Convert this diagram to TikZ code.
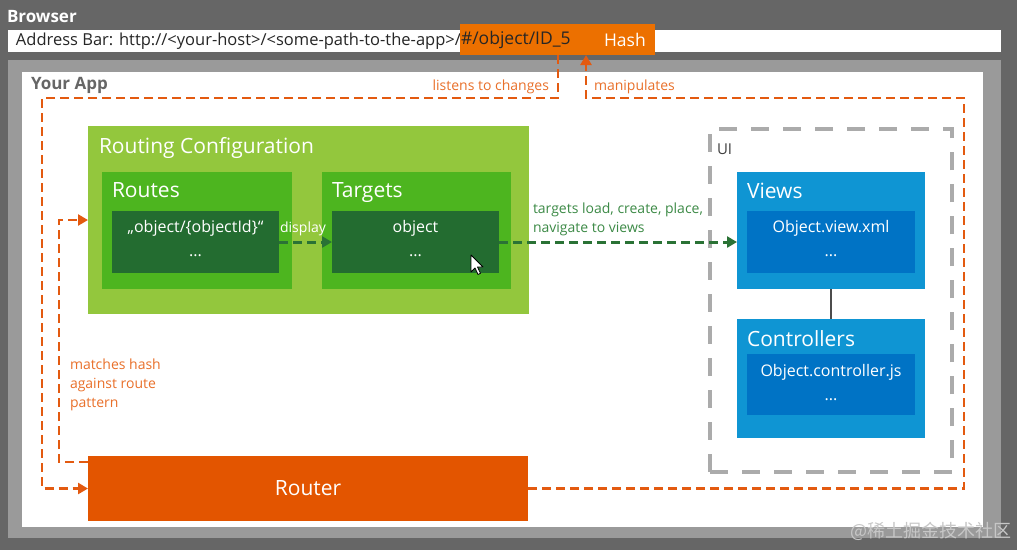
\documentclass[tikz,border=0pt]{standalone}
\usepackage{fontspec}
\setmainfont{Open Sans}
\newfontfamily\cjkfont{Noto Sans CJK SC}
\usetikzlibrary{arrows.meta}
\definecolor{bgdark}{HTML}{666666}
\definecolor{bglight}{HTML}{9A9A9A}
\definecolor{hashor}{HTML}{EC7000}
\definecolor{routeror}{HTML}{E35500}
\definecolor{linor}{HTML}{E35A10}
\definecolor{txtor}{HTML}{E9702A}
\definecolor{lgreen}{HTML}{93C73D}
\definecolor{mgreen}{HTML}{4DB51F}
\definecolor{dgreen}{HTML}{236C30}
\definecolor{lingreen}{HTML}{2A7235}
\definecolor{txtgreen}{HTML}{3C8A46}
\definecolor{lblue}{HTML}{0F95D3}
\definecolor{dblue}{HTML}{0073C5}
\definecolor{uigray}{HTML}{ABABAB}
\begin{document}
\begin{tikzpicture}[x=1pt,y=-1pt,
  rbox/.style={rectangle, draw=none, inner sep=0pt, outer sep=0pt, anchor=north west},
  txt/.style={inner sep=0pt, outer sep=0pt},
  fbig/.style={font=\fontsize{21}{25}\selectfont},
  fmid/.style={font=\fontsize{16}{19}\selectfont},
  fsmall/.style={font=\fontsize{14}{17}\selectfont},
  odash/.style={draw=linor, line width=2.5pt, dash pattern=on 9pt off 5pt},
  gdash/.style={draw=lingreen, line width=3pt, dash pattern=on 9pt off 5pt},
  tip/.style={-{Triangle[length=10pt,width=11pt]}}
]
\useasboundingbox (0,0) rectangle (1017,550);
% background frames
\fill[bgdark] (0,0) rectangle (1017,550);
\node[rbox, fill=bglight, minimum width=993pt, minimum height=478pt] (frame) at (8,60) {};
\node[rbox, fill=white, minimum width=961pt, minimum height=455pt] (app) at (22,72) {};
% browser
\node[txt, anchor=west, text=white, font=\fontsize{17}{20}\selectfont\bfseries] (browser) at (7,17) {Browser};
\node[rbox, fill=white, minimum width=993pt, minimum height=22pt] (addr) at (8,30) {};
\node[txt, anchor=west, font=\fontsize{16.5}{19}\selectfont, text=black!85] (addrtxt) at (16,41) {Address Bar: http://<your-host>/<some-path-to-the-app>/};
\node[rbox, fill=hashor, minimum width=195pt, minimum height=31pt] (hash) at (460,24) {};
\node[txt, anchor=west, font=\fontsize{17.5}{20}\selectfont, text=black!85] (hashtxt) at (461,40) {\#/object/ID\_5};
\node[txt, anchor=west, font=\fontsize{17.5}{20}\selectfont, text=white] (hashlbl) at (604,40) {Hash};
% your app
\node[txt, anchor=west, text=bgdark, font=\fontsize{17}{20}\selectfont\bfseries] (yourapp) at (31,85) {Your App};
% routing configuration
\node[rbox, fill=lgreen, minimum width=441pt, minimum height=188pt] (rc) at (88,126) {};
\node[txt, anchor=base west, fbig, text=white] (rctitle) at (99,153) {Routing Configuration};
\node[rbox, fill=mgreen, minimum width=190pt, minimum height=117pt] (routes) at (102,172) {};
\node[txt, anchor=base west, fbig, text=white] (routestitle) at (112,197) {Routes};
\node[rbox, fill=dgreen, minimum width=167pt, minimum height=62pt] (routesin) at (112,211) {};
\node[txt, anchor=base, fmid, text=white] (routest1) at (195.5,232.5) {„object/\{objectId\}“};
\node[txt, anchor=base, fmid, text=white] (routest2) at (195.5,256) {...};
\node[rbox, fill=mgreen, minimum width=189pt, minimum height=117pt] (targets) at (322,172) {};
\node[txt, anchor=base west, fbig, text=white] (targetstitle) at (332,197) {Targets};
\node[rbox, fill=dgreen, minimum width=167pt, minimum height=62pt] (targetsin) at (332,211) {};
\node[txt, anchor=base, fmid, text=white] (targetst1) at (415.5,232.5) {object};
\node[txt, anchor=base, fmid, text=white] (targetst2) at (415.5,256) {...};
% cursor
\draw[fill=white, draw=black, line width=0.8pt, line join=round] (471,255) -- ++(0,17) -- ++(4,-4) -- ++(3,6.5) -- ++(2.5,-1.2) -- ++(-3,-6.3) -- ++(5.5,0) -- cycle;
% UI
\node[rbox, draw=uigray, line width=4pt, dash pattern=on 18pt off 14pt, minimum width=242pt, minimum height=343pt] (ui) at (710,129) {};
\node[txt, anchor=west, font=\fontsize{15}{18}\selectfont, text=black!75] (uitxt) at (717,149) {UI};
\node[rbox, fill=lblue, minimum width=188pt, minimum height=117pt] (views) at (737,172) {};
\node[txt, anchor=base west, fbig, text=white] (viewstitle) at (747,198) {Views};
\node[rbox, fill=dblue, minimum width=168pt, minimum height=62pt] (viewsin) at (747,211) {};
\node[txt, anchor=base, fmid, text=white] (viewst1) at (831,232.5) {Object.view.xml};
\node[txt, anchor=base, fmid, text=white] (viewst2) at (831,256) {...};
\node[rbox, fill=lblue, minimum width=188pt, minimum height=119pt] (ctrl) at (737,319) {};
\node[txt, anchor=base west, fbig, text=white] (ctrltitle) at (747,346) {Controllers};
\node[rbox, fill=dblue, minimum width=168pt, minimum height=61pt] (ctrlin) at (747,354) {};
\node[txt, anchor=base, fmid, text=white] (ctrlt1) at (831,376.5) {Object.controller.js};
\node[txt, anchor=base, fmid, text=white] (ctrlt2) at (831,400) {...};
\draw[black!70, line width=1.5pt] (views.south) -- (ctrl.north);
% router
\node[rbox, fill=routeror, minimum width=440pt, minimum height=65pt] (router) at (88,456) {};
\node[txt, fbig, text=white] (routertxt) at (router.center) {Router};
% orange connectors
\coordinate (lc) at (558,98);
\coordinate (lcl) at (42,98);
\draw[odash, tip] (lc |- hash.south) -- (lc) -- (lcl) -- (lcl |- router.west) -- (router.west);
\coordinate (mc) at (586,98);
\coordinate (mr) at (964,98);
\draw[odash, tip] (router.east) -- (mr |- router.east) -- (mr) -- (mc) -- (mc |- hash.south);
\coordinate (ml) at (59,462);
\coordinate (mt) at (59,220);
\draw[odash, tip] (ml -| router.west) -- (ml) -- (mt) -- (mt -| rc.west);
\node[txt, anchor=east, fsmall, text=txtor] (listens) at (549,87) {listens to changes};
\node[txt, anchor=west, fsmall, text=txtor] (manip) at (594,87) {manipulates};
\node[txt, anchor=north west, text=txtor, align=left, font=\fontsize{14}{19}\selectfont] (matches) at (70,359) {matches hash\\against route\\pattern};
% green connectors
\draw[gdash, tip] (routesin.east) -- (targetsin.west);
\node[txt, fsmall, text=white] (displaylbl) at (303,229) {display};
\draw[gdash, tip] (targetsin.east) -- (targetsin.east -| views.west);
\node[txt, anchor=south west, text=txtgreen, align=left, font=\fontsize{14}{19}\selectfont] (tgtlbl) at (533,236) {targets load, create, place,\\navigate to views};
% watermark
\node[txt, anchor=west, text=black!22, font=\cjkfont\fontsize{18}{21}\selectfont] (wm) at (850,531) {@稀土掘金技术社区};
\end{tikzpicture}
\end{document}
